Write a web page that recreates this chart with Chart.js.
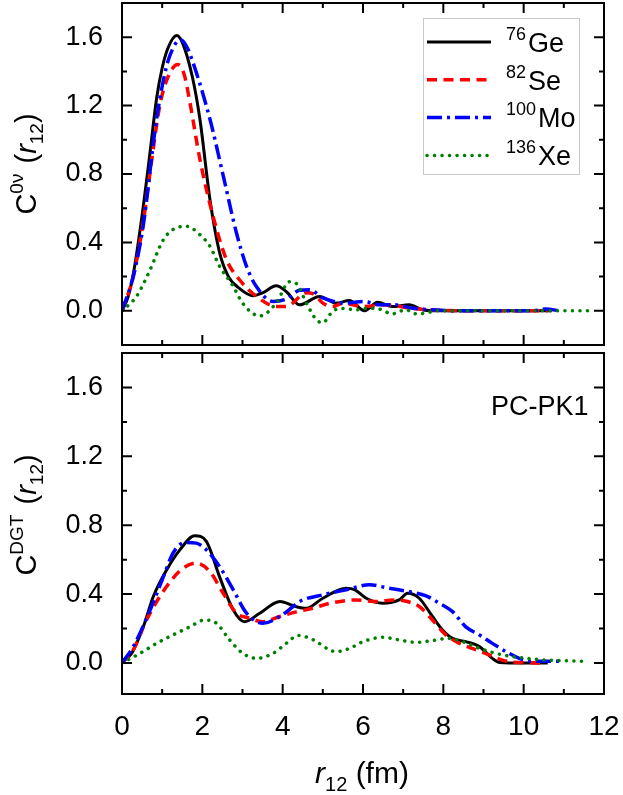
<!DOCTYPE html>
<html>
<head>
<meta charset="utf-8">
<script src="https://cdn.jsdelivr.net/npm/chart.js@4.4.1/dist/chart.umd.min.js"></script>
<style>
  html, body { margin: 0; padding: 0; background: #fff; }
  #wrap { position: relative; width: 623px; height: 795px; }
  #top { position: absolute; left: 0; top: 0; }
  #bot { position: absolute; left: 0; top: 350px; }
</style>
</head>
<body>
<div id="wrap">
  <canvas id="top" width="623" height="350"></canvas>
  <canvas id="bot" width="623" height="445"></canvas>
</div>
<script>
// tick labels
const xTickVals = [0, 2, 4, 6, 8, 10, 12];
const yTickVals = [0, 0.4, 0.8, 1.2, 1.6];

// legend: mass number + element
const legendLabels = [['76', 'Ge'], ['82', 'Se'], ['100', 'Mo'], ['136', 'Xe']];

// upper panel, C^0v(r12)
const geR0 = [0, 0.15, 0.3, 0.53, 0.7, 0.86, 1.0, 1.15, 1.36, 1.5, 1.75, 1.94, 2.19, 2.43, 2.65, 2.93, 3.26, 3.5, 3.84, 4.1, 4.42, 4.92, 5.33, 5.66, 6.04, 6.36, 6.73, 7.15, 7.5, 8.0, 9.0, 10.0, 10.7];
const geC0 = [0, 0.08, 0.24, 0.61, 0.93, 1.24, 1.42, 1.54, 1.61, 1.57, 1.37, 1.12, 0.65, 0.34, 0.2, 0.13, 0.088, 0.105, 0.146, 0.11, 0.035, 0.084, 0.045, 0.06, 0.0, 0.05, 0.025, 0.035, 0.005, 0, 0, 0, 0];
const seR0 = [0, 0.28, 0.53, 0.75, 0.94, 1.15, 1.39, 1.55, 1.69, 1.94, 2.27, 2.6, 2.93, 3.35, 3.84, 4.09, 4.59, 4.75, 5.0, 5.24, 5.5, 6.0, 6.58, 7.2, 7.7, 8.5, 9.5, 10.6];
const seC0 = [0, 0.2, 0.52, 0.9, 1.2, 1.37, 1.44, 1.38, 1.22, 0.885, 0.55, 0.3, 0.18, 0.084, 0.025, 0.025, 0.105, 0.1, 0.045, 0.025, 0.045, 0.025, 0.035, 0.015, 0.005, 0, 0, 0];
const moR0 = [0, 0.28, 0.53, 0.86, 1.11, 1.3, 1.45, 1.6, 1.77, 2.19, 2.52, 2.85, 3.1, 3.35, 3.76, 4.1, 4.42, 4.67, 5.0, 5.58, 6.0, 6.41, 6.78, 7.23, 7.8, 8.4, 9.5, 10.2, 10.55, 10.9];
const moC0 = [0, 0.2, 0.5, 1.12, 1.43, 1.55, 1.585, 1.55, 1.45, 1.12, 0.79, 0.455, 0.26, 0.14, 0.055, 0.07, 0.12, 0.123, 0.075, 0.045, 0.055, 0.035, 0.035, 0.015, 0.005, 0, 0, 0, 0.01, 0];
const xeR0 = [0, 0.36, 0.7, 1.03, 1.36, 1.61, 1.94, 2.19, 2.43, 2.77, 3.0, 3.43, 3.84, 4.17, 4.34, 4.59, 4.84, 5.0, 5.21, 5.42, 5.83, 6.08, 6.41, 6.73, 7.07, 7.32, 7.57, 7.82, 9, 10, 11, 11.6];
const xeC0 = [0, 0.084, 0.24, 0.416, 0.486, 0.494, 0.445, 0.377, 0.26, 0.143, 0.045, -0.03, 0.045, 0.17, 0.16, 0.045, -0.053, -0.07, -0.013, 0.015, 0.006, 0.015, 0.01, -0.018, 0.006, -0.018, -0.013, 0, 0, 0, 0, 0];

// lower panel, C^DGT(r12)
const geRD = [0, 0.24, 0.53, 0.78, 1.11, 1.44, 1.81, 2.1, 2.43, 2.77, 3.05, 3.43, 3.93, 4.34, 4.59, 5.0, 5.58, 5.8, 6.08, 6.49, 6.9, 7.11, 7.4, 7.73, 7.98, 8.23, 8.56, 8.9, 9.22, 9.4, 10.0, 10.6];
const geCD = [0.008, 0.056, 0.21, 0.386, 0.54, 0.657, 0.739, 0.706, 0.5, 0.308, 0.24, 0.289, 0.357, 0.327, 0.318, 0.376, 0.434, 0.425, 0.376, 0.347, 0.366, 0.405, 0.376, 0.27, 0.192, 0.143, 0.124, 0.095, 0.027, 0.003, 0, 0];
const seRD = [0, 0.28, 0.61, 1.11, 1.52, 1.85, 2.19, 2.52, 2.85, 3.18, 3.5, 3.93, 4.34, 4.75, 5.17, 5.83, 6.33, 6.78, 7.1, 7.4, 7.73, 8.06, 8.4, 8.72, 9.14, 9.47, 9.72, 10.55];
const seCD = [0, 0.076, 0.25, 0.444, 0.55, 0.58, 0.53, 0.405, 0.289, 0.26, 0.24, 0.27, 0.297, 0.318, 0.347, 0.366, 0.357, 0.366, 0.357, 0.328, 0.25, 0.163, 0.114, 0.085, 0.047, 0.017, 0.005, 0];
const moRD = [0, 0.28, 0.7, 1.03, 1.27, 1.57, 1.85, 2.1, 2.43, 2.77, 3.1, 3.51, 3.93, 4.26, 4.42, 5.0, 5.58, 6.16, 6.65, 7.24, 7.57, 7.9, 8.23, 8.56, 8.9, 9.22, 9.56, 9.89, 10.2, 10.9];
const moCD = [0, 0.095, 0.308, 0.5, 0.638, 0.7, 0.696, 0.657, 0.56, 0.425, 0.289, 0.231, 0.27, 0.328, 0.357, 0.396, 0.425, 0.454, 0.434, 0.41, 0.39, 0.347, 0.298, 0.21, 0.163, 0.114, 0.066, 0.027, 0.01, 0.01];
const xeRD = [0, 0.45, 0.86, 1.27, 1.69, 2.06, 2.35, 2.68, 3.01, 3.35, 3.76, 4.09, 4.38, 4.75, 5.17, 5.33, 5.67, 6.0, 6.49, 6.9, 7.32, 7.73, 8.15, 8.48, 8.9, 9.31, 9.72, 10.07, 10.55, 11.2, 11.6];
const xeCD = [0, 0.056, 0.114, 0.163, 0.21, 0.25, 0.231, 0.134, 0.056, 0.027, 0.056, 0.114, 0.16, 0.136, 0.076, 0.066, 0.085, 0.124, 0.149, 0.134, 0.12, 0.13, 0.143, 0.124, 0.085, 0.056, 0.037, 0.027, 0.017, 0.012, 0.01];

const FONT = "'Liberation Sans', Arial, Helvetica, sans-serif";
Chart.defaults.font.family = FONT;
Chart.defaults.color = '#000';

const lineStyles = [
    { color: '#000000', width: 3, dash: [], cap: 'butt' },
    { color: '#ff0000', width: 3.5, dash: [10, 6.5], cap: 'butt' },
    { color: '#0000ff', width: 3.5, dash: [15, 5, 3, 5], cap: 'butt' },
    { color: '#008000', width: 3.5, dash: [0.1, 7.4], cap: 'round' }
];

const toPoints = (rs, cs) => rs.map((r, i) => ({ x: r, y: cs[i] }));

const makeDatasets = series => series.map((s, i) => ({
    label: legendLabels[i].join(''),
    data: toPoints(s[0], s[1]),
    borderColor: lineStyles[i].color,
    borderWidth: lineStyles[i].width,
    borderDash: lineStyles[i].dash,
    borderCapStyle: lineStyles[i].cap,
    pointRadius: 0,
    fill: false,
    cubicInterpolationMode: 'monotone',
    order: 4 - i
}));

// draws a string made of pieces: {t, it (italic), sup, sub}
function drawRich(ctx, parts, x, y, size, angle, align) {
    ctx.save();
    ctx.translate(x, y);
    ctx.rotate(angle || 0);
    ctx.fillStyle = '#000';
    ctx.textBaseline = 'alphabetic';
    ctx.textAlign = 'left';
    const fontOf = p => (p.it ? 'italic ' : '') + Math.round((p.sup || p.sub) ? size * 0.66 : size) + 'px ' + FONT;
    let total = 0;
    parts.forEach(p => { ctx.font = fontOf(p); total += ctx.measureText(p.t).width + (p.gap || 0); });
    let cx = align === 'left' ? 0 : -total / 2;
    parts.forEach(p => {
        ctx.font = fontOf(p);
        const dy = p.sup ? -size * 0.45 : p.sub ? size * 0.25 : 0;
        ctx.fillText(p.t, cx, dy);
        cx += ctx.measureText(p.t).width + (p.gap || 0);
    });
    ctx.restore();
}

// frame with inward ticks on all four sides
const frameTicks = {
    id: 'frameTicks',
    afterDatasetsDraw(chart) {
        const { ctx, chartArea: a, scales } = chart;
        ctx.save();
        ctx.strokeStyle = '#000';
        ctx.lineWidth = 2;
        ctx.setLineDash([]);
        ctx.strokeRect(a.left, a.top, a.right - a.left, a.bottom - a.top);
        ctx.beginPath();
        for (let v = 1; v < 12; v++) {
            const px = scales.x.getPixelForValue(v);
            const len = v % 2 === 0 ? 10 : 5;
            ctx.moveTo(px, a.bottom); ctx.lineTo(px, a.bottom - len);
            ctx.moveTo(px, a.top); ctx.lineTo(px, a.top + len);
        }
        for (let k = 0; k <= 8; k++) {
            const py = scales.y.getPixelForValue(k * 0.2);
            const len = k % 2 === 0 ? 10 : 5;
            ctx.moveTo(a.left, py); ctx.lineTo(a.left + len, py);
            ctx.moveTo(a.right, py); ctx.lineTo(a.right - len, py);
        }
        ctx.stroke();
        ctx.restore();
    }
};

const topDecor = {
    id: 'topDecor',
    afterDraw(chart) {
        const ctx = chart.ctx;
        drawRich(ctx, [{ t: 'C' }, { t: '0ν', sup: true, gap: 2 }, { t: ' (' }, { t: 'r', it: true }, { t: '12', sub: true }, { t: ')' }],
            36, 164, 29, -Math.PI / 2);
        // legend
        ctx.save();
        ctx.strokeStyle = '#c8c8c8';
        ctx.lineWidth = 1;
        ctx.strokeRect(423.5, 18.5, 156, 156);
        ctx.restore();
        legendLabels.forEach((lab, i) => {
            const st = lineStyles[i];
            const ly = 42 + i * 37.8;
            ctx.save();
            ctx.strokeStyle = st.color;
            ctx.lineWidth = st.width;
            ctx.lineCap = st.cap;
            ctx.setLineDash(st.dash);
            ctx.beginPath();
            ctx.moveTo(427, ly);
            ctx.lineTo(491, ly);
            ctx.stroke();
            ctx.restore();
            drawRich(ctx, [{ t: lab[0], sup: true, gap: 2 }, { t: lab[1] }], 506, 52 + i * 37.7, 27, 0, 'left');
        });
    }
};

const botDecor = {
    id: 'botDecor',
    afterDraw(chart) {
        const ctx = chart.ctx;
        drawRich(ctx, [{ t: 'C' }, { t: 'DGT', sup: true, gap: 2 }, { t: ' (' }, { t: 'r', it: true }, { t: '12', sub: true }, { t: ')' }],
            36, 165, 29, -Math.PI / 2);
        drawRich(ctx, [{ t: 'r', it: true }, { t: '12', sub: true }, { t: ' (fm)' }], 362, 433, 30, 0);
        const x = chart.scales.x, y = chart.scales.y;
        drawRich(ctx, [{ t: 'PC-PK1' }], x.getPixelForValue(10.4), y.getPixelForValue(1.44), 27, 0);
    }
};

function yScale(min, max) {
    return {
        type: 'linear',
        min: min,
        max: max,
        grid: { display: false },
        border: { display: false },
        ticks: { font: { size: 27 }, padding: 11, callback: v => v.toFixed(1) },
        afterBuildTicks: s => { s.ticks = yTickVals.map(v => ({ value: v })); },
        afterFit: s => { s.width = 122; s.paddingTop = 0; s.paddingBottom = 0; }
    };
}

new Chart(document.getElementById('top'), {
    type: 'line',
    data: {
        datasets: makeDatasets([[geR0, geC0], [seR0, seC0], [moR0, moC0], [xeR0, xeC0]])
    },
    options: {
        responsive: false,
        animation: false,
        layout: { padding: { top: 3, right: 19, bottom: 5, left: 0 } },
        plugins: { legend: { display: false }, tooltip: { enabled: false } },
        scales: {
            x: { type: 'linear', min: 0, max: 12, display: false },
            y: yScale(-0.2, 1.8)
        }
    },
    plugins: [frameTicks, topDecor]
});

new Chart(document.getElementById('bot'), {
    type: 'line',
    data: {
        datasets: makeDatasets([[geRD, geCD], [seRD, seCD], [moRD, moCD], [xeRD, xeCD]])
    },
    options: {
        responsive: false,
        animation: false,
        layout: { padding: { top: 3, right: 19, bottom: 0, left: 0 } },
        plugins: { legend: { display: false }, tooltip: { enabled: false } },
        scales: {
            x: {
                type: 'linear',
                min: 0,
                max: 12,
                grid: { display: false },
                border: { display: false },
                ticks: { font: { size: 28 }, padding: 8, maxRotation: 0 },
                afterBuildTicks: s => { s.ticks = xTickVals.map(v => ({ value: v })); },
                afterFit: s => { s.height = 101; s.paddingLeft = 0; s.paddingRight = 0; }
            },
            y: yScale(-0.18, 1.8)
        }
    },
    plugins: [frameTicks, botDecor]
});
</script>
</body>
</html>
